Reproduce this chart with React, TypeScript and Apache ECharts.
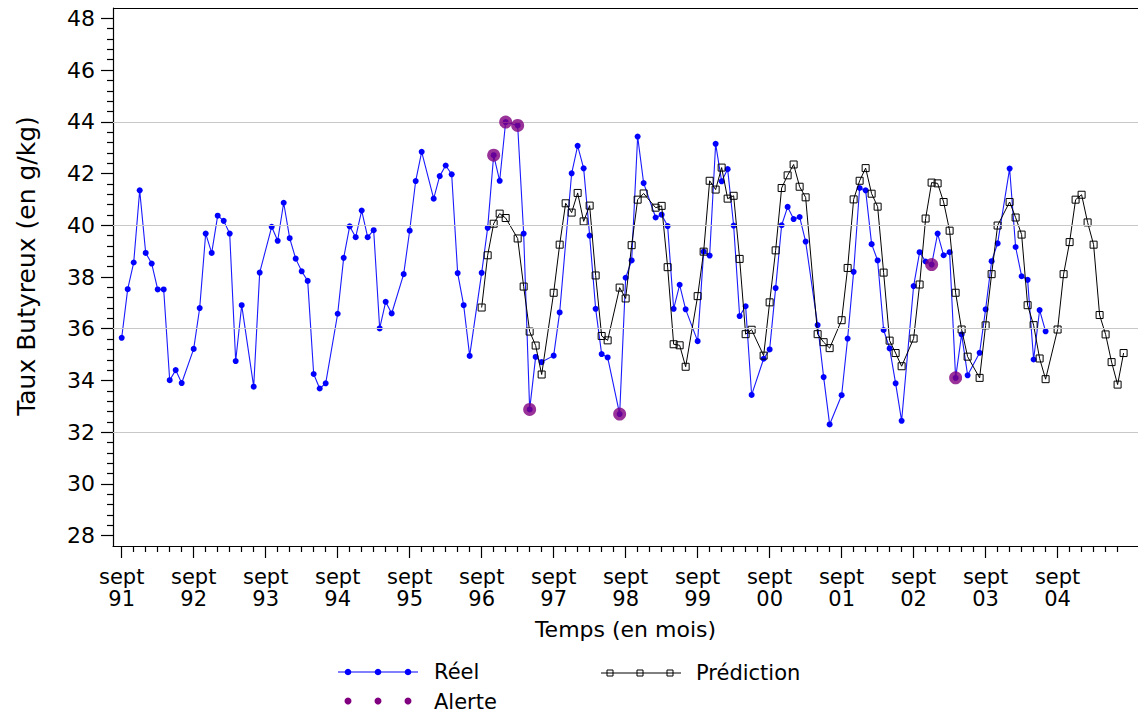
import React, { useEffect, useRef } from "react";
import * as echarts from "echarts";

// Month index: 0 = sept 91
const realPoints: [number, number][] = [
  [0, 35.65], [1, 37.53], [2, 38.56], [3, 41.35], [4, 38.93], [5, 38.52], [6, 37.52], [7, 37.52],
  [8, 34.01], [9, 34.4], [10, 33.9], [12, 35.22], [13, 36.8], [14, 39.68], [15, 38.93], [16, 40.37],
  [17, 40.17], [18, 39.68], [19, 34.75], [20, 36.91], [22, 33.76], [23, 38.17], [25, 39.94], [26, 39.4],
  [27, 40.87], [28, 39.5], [29, 38.71], [30, 38.22], [31, 37.85], [32, 34.25], [33, 33.69], [34, 33.89],
  [36, 36.58], [37, 38.74], [38, 39.96], [39, 39.54], [40, 40.57], [41, 39.54], [42, 39.81], [43, 36.01],
  [44, 37.04], [45, 36.59], [47, 38.11], [48, 39.79], [49, 41.71], [50, 42.84], [52, 41.03], [53, 41.9],
  [54, 42.31], [55, 41.97], [56, 38.15], [57, 36.91], [58, 34.95], [60, 38.16], [61, 39.9], [62, 42.71],
  [63, 41.72], [64, 43.99], [66, 43.86], [67, 39.68], [68, 32.88], [69, 34.91], [70, 34.71], [72, 34.96],
  [73, 36.63], [75, 42.01], [76, 43.07], [77, 42.2], [78, 39.6], [79, 36.77], [80, 35.02], [81, 34.89],
  [83, 32.7], [84, 37.97], [85, 38.64], [86, 43.43], [87, 41.63], [89, 40.3], [90, 40.41], [91, 39.97],
  [92, 36.77], [93, 37.7], [94, 36.75], [96, 35.52], [97, 38.98], [98, 38.83], [99, 43.15], [100, 41.7],
  [101, 42.17], [102, 39.99], [103, 36.49], [104, 36.87], [105, 33.44], [107, 34.84], [108, 35.2], [109, 37.57],
  [110, 40.0], [111, 40.71], [112, 40.24], [113, 40.32], [114, 39.37], [116, 36.14], [117, 34.13], [118, 32.3],
  [120, 33.43], [121, 35.62], [122, 38.2], [123, 41.44], [124, 41.35], [125, 39.27], [126, 38.64], [127, 35.95],
  [128, 35.24], [129, 33.89], [130, 32.44], [132, 37.65], [133, 38.96], [134, 38.6], [135, 38.48], [136, 39.68],
  [137, 38.84], [138, 38.96], [139, 34.1], [140, 35.78], [141, 34.2], [143, 35.07], [144, 36.75], [145, 38.61],
  [146, 39.3], [148, 42.19], [149, 39.16], [150, 38.03], [151, 37.89], [152, 34.81], [153, 36.72], [154, 35.9],
];

const predPoints: [number, number][] = [
  [60, 36.82], [61, 38.84], [62, 40.06], [63, 40.45], [64, 40.28], [66, 39.49], [67, 37.63], [68, 35.89],
  [69, 35.35], [70, 34.23], [72, 37.39], [73, 39.25], [74, 40.85], [75, 40.49], [76, 41.25], [77, 40.15],
  [78, 40.76], [79, 38.06], [80, 35.72], [81, 35.55], [83, 37.59], [84, 37.17], [85, 39.23], [86, 40.99],
  [87, 41.23], [89, 40.68], [90, 40.75], [91, 38.38], [92, 35.4], [93, 35.36], [94, 34.53], [96, 37.26],
  [97, 38.98], [98, 41.72], [99, 41.38], [100, 42.23], [101, 41.03], [102, 41.14], [103, 38.7], [104, 35.79],
  [105, 35.96], [107, 34.96], [108, 37.02], [109, 39.03], [110, 41.44], [111, 41.93], [112, 42.35], [113, 41.49],
  [114, 41.08], [116, 35.79], [117, 35.48], [118, 35.25], [120, 36.33], [121, 38.35], [122, 41.0], [123, 41.72],
  [124, 42.21], [125, 41.22], [126, 40.72], [127, 38.17], [128, 35.54], [129, 35.06], [130, 34.55], [132, 35.62],
  [133, 37.71], [134, 40.26], [135, 41.65], [136, 41.62], [137, 40.9], [138, 39.79], [139, 37.39], [140, 35.97],
  [141, 34.92], [143, 34.1], [144, 36.13], [145, 38.11], [146, 39.99], [148, 40.9], [149, 40.3], [150, 39.64],
  [151, 36.91], [152, 36.14], [153, 34.85], [154, 34.05], [156, 35.97], [157, 38.11], [158, 39.35], [159, 40.99],
  [160, 41.18], [161, 40.11], [162, 39.25], [163, 36.53], [164, 35.78], [165, 34.71], [166, 33.84], [167, 35.06],
];

const alertPoints: [number, number][] = [
  [62, 42.71], [64, 43.99], [66, 43.86], [68, 32.88], [83, 32.7], [135, 38.48], [139, 34.1],
];

const xMajorTicks = [0, 12, 24, 36, 48, 60, 72, 84, 96, 108, 120, 132, 144, 156];
const xTickLabels = ["91", "92", "93", "94", "95", "96", "97", "98", "99", "00", "01", "02", "03", "04"];
const yMajorTicks = [28, 30, 32, 34, 36, 38, 40, 42, 44, 46, 48];
const yGridLines = [32, 36, 40, 44];

const FONT = "DejaVu Sans";

export default function App() {
  const ref = useRef<HTMLDivElement>(null);
  useEffect(() => {
    if (!ref.current) return;
    const chart = echarts.init(ref.current, undefined, { renderer: "svg" });

    const xMinor: number[] = [];
    for (let m = 0; m <= 168; m += 2) if (m % 12 !== 0) xMinor.push(m);
    const yMinor: number[] = [];
    for (let i = 0; i <= 50; i++) {
      const v = Math.round((28 + i * 0.4) * 10) / 10;
      if (v > 48.4) break;
      if (Math.abs(v / 2 - Math.round(v / 2)) > 1e-6) yMinor.push(v);
    }

    const xMin = -1.45;
    const xMax = 169.4;
    const yMin = 27.6;
    const yMax = 48.4;

    const option: any = {
      animation: false,
      backgroundColor: "#fff",
      grid: { left: 113, top: 8, right: 0, bottom: 170, containLabel: false, outerBoundsMode: "none" },
      xAxis: [
        {
          type: "value",
          min: xMin,
          max: xMax,
          position: "bottom",
          axisLine: { show: true, onZero: false, lineStyle: { color: "#000", width: 1.2 } },
          axisTick: { show: true, customValues: xMajorTicks, length: 12, lineStyle: { color: "#000", width: 1.2 } },
          axisLabel: {
            show: true,
            customValues: xMajorTicks,
            formatter: (v: number) => {
              const i = xMajorTicks.indexOf(Math.round(v));
              return i >= 0 ? "sept\n" + xTickLabels[i] : "";
            },
            fontSize: 21,
            lineHeight: 22,
            fontFamily: FONT,
            color: "#000",
            margin: 20,
          },
          splitLine: { show: false },
          name: "Temps (en mois)",
          nameLocation: "middle",
          nameGap: 72,
          nameTextStyle: { fontSize: 22, fontFamily: FONT, color: "#000" },
        },
        {
          type: "value",
          min: xMin,
          max: xMax,
          position: "bottom",
          axisLine: { show: false, onZero: false },
          axisTick: { show: true, customValues: xMinor, length: 6, lineStyle: { color: "#000", width: 1.2 } },
          axisLabel: { show: false },
          splitLine: { show: false },
        },
      ],
      yAxis: [
        {
          type: "value",
          min: yMin,
          max: yMax,
          position: "left",
          axisLine: { show: true, onZero: false, lineStyle: { color: "#000", width: 1.2 } },
          axisTick: { show: true, customValues: yMajorTicks, length: 12, lineStyle: { color: "#000", width: 1.2 } },
          axisLabel: {
            show: true,
            customValues: yMajorTicks,
            fontSize: 22,
            fontFamily: FONT,
            color: "#000",
            margin: 18,
          },
          splitLine: { show: false },
        },
        {
          type: "value",
          min: yMin,
          max: yMax,
          position: "left",
          axisLine: { show: false, onZero: false },
          axisTick: { show: true, customValues: yMinor, length: 6, lineStyle: { color: "#000", width: 1.2 } },
          axisLabel: { show: false },
          splitLine: { show: false },
        },
      ],
      series: [
        {
          type: "line",
          name: "grid",
          data: [],
          z: 1,
          silent: true,
          markLine: {
            silent: true,
            symbol: ["none", "none"],
            label: { show: false },
            lineStyle: { color: "#c8c8c8", type: "solid", width: 1.2 },
            data: yGridLines.map((v) => ({ yAxis: v })),
          },
        },
        {
          type: "line",
          name: "Réel",
          data: realPoints,
          symbol: "circle",
          symbolSize: 6,
          itemStyle: { color: "#0000ff" },
          lineStyle: { color: "#1a1aff", width: 1.1 },
          z: 3,
        },
        {
          type: "line",
          name: "Prédiction",
          data: predPoints,
          symbol: "rect",
          symbolSize: 7,
          showAllSymbol: true,
          itemStyle: { color: "rgba(255,255,255,0)", borderColor: "#000", borderWidth: 1 },
          lineStyle: { color: "#000", width: 1 },
          z: 4,
        },
        {
          type: "scatter",
          name: "Alerte",
          data: alertPoints,
          symbol: "circle",
          symbolSize: 13,
          itemStyle: { color: "#800080" },
          z: 5,
        },
      ],
      graphic: [
        { type: "line", shape: { x1: 113, y1: 8.5, x2: 1138, y2: 8.5 }, style: { stroke: "#000", lineWidth: 1.2 } },
        {
          type: "text",
          x: 26,
          y: 266,
          rotation: Math.PI / 2,
          style: {
            text: "Taux Butyreux (en g/kg)",
            fontSize: 25,
            fontFamily: FONT,
            fill: "#000",
            align: "center",
            verticalAlign: "middle",
          },
        },
        // legend: Réel
        { type: "line", shape: { x1: 338, y1: 672, x2: 418, y2: 672 }, style: { stroke: "#0000ff", lineWidth: 1 } },
        { type: "circle", shape: { cx: 348, cy: 672, r: 3.3 }, style: { fill: "#0000ff" } },
        { type: "circle", shape: { cx: 378, cy: 672, r: 3.3 }, style: { fill: "#0000ff" } },
        { type: "circle", shape: { cx: 408, cy: 672, r: 3.3 }, style: { fill: "#0000ff" } },
        { type: "text", x: 434, y: 672, style: { text: "Réel", fontSize: 21, fontFamily: FONT, fill: "#000", verticalAlign: "middle" } },
        // legend: Alerte
        { type: "circle", shape: { cx: 348, cy: 701, r: 3.5 }, style: { fill: "#800080" } },
        { type: "circle", shape: { cx: 378, cy: 701, r: 3.5 }, style: { fill: "#800080" } },
        { type: "circle", shape: { cx: 408, cy: 701, r: 3.5 }, style: { fill: "#800080" } },
        { type: "text", x: 434, y: 702, style: { text: "Alerte", fontSize: 21, fontFamily: FONT, fill: "#000", verticalAlign: "middle" } },
        // legend: Prédiction
        { type: "line", shape: { x1: 601, y1: 673, x2: 681, y2: 673 }, style: { stroke: "#000", lineWidth: 1 } },
        { type: "rect", shape: { x: 607, y: 670, width: 6, height: 6 }, style: { fill: "none", stroke: "#000", lineWidth: 1 } },
        { type: "rect", shape: { x: 637, y: 670, width: 6, height: 6 }, style: { fill: "none", stroke: "#000", lineWidth: 1 } },
        { type: "rect", shape: { x: 667, y: 670, width: 6, height: 6 }, style: { fill: "none", stroke: "#000", lineWidth: 1 } },
        { type: "text", x: 696, y: 673, style: { text: "Prédiction", fontSize: 21, fontFamily: FONT, fill: "#000", verticalAlign: "middle" } },
      ],
    };
    chart.setOption(option);
    return () => chart.dispose();
  }, []);

  return (
    <div
      ref={ref}
      style={{ position: "absolute", left: 0, top: 0, width: 1138, height: 716, background: "#fff" }}
    />
  );
}
